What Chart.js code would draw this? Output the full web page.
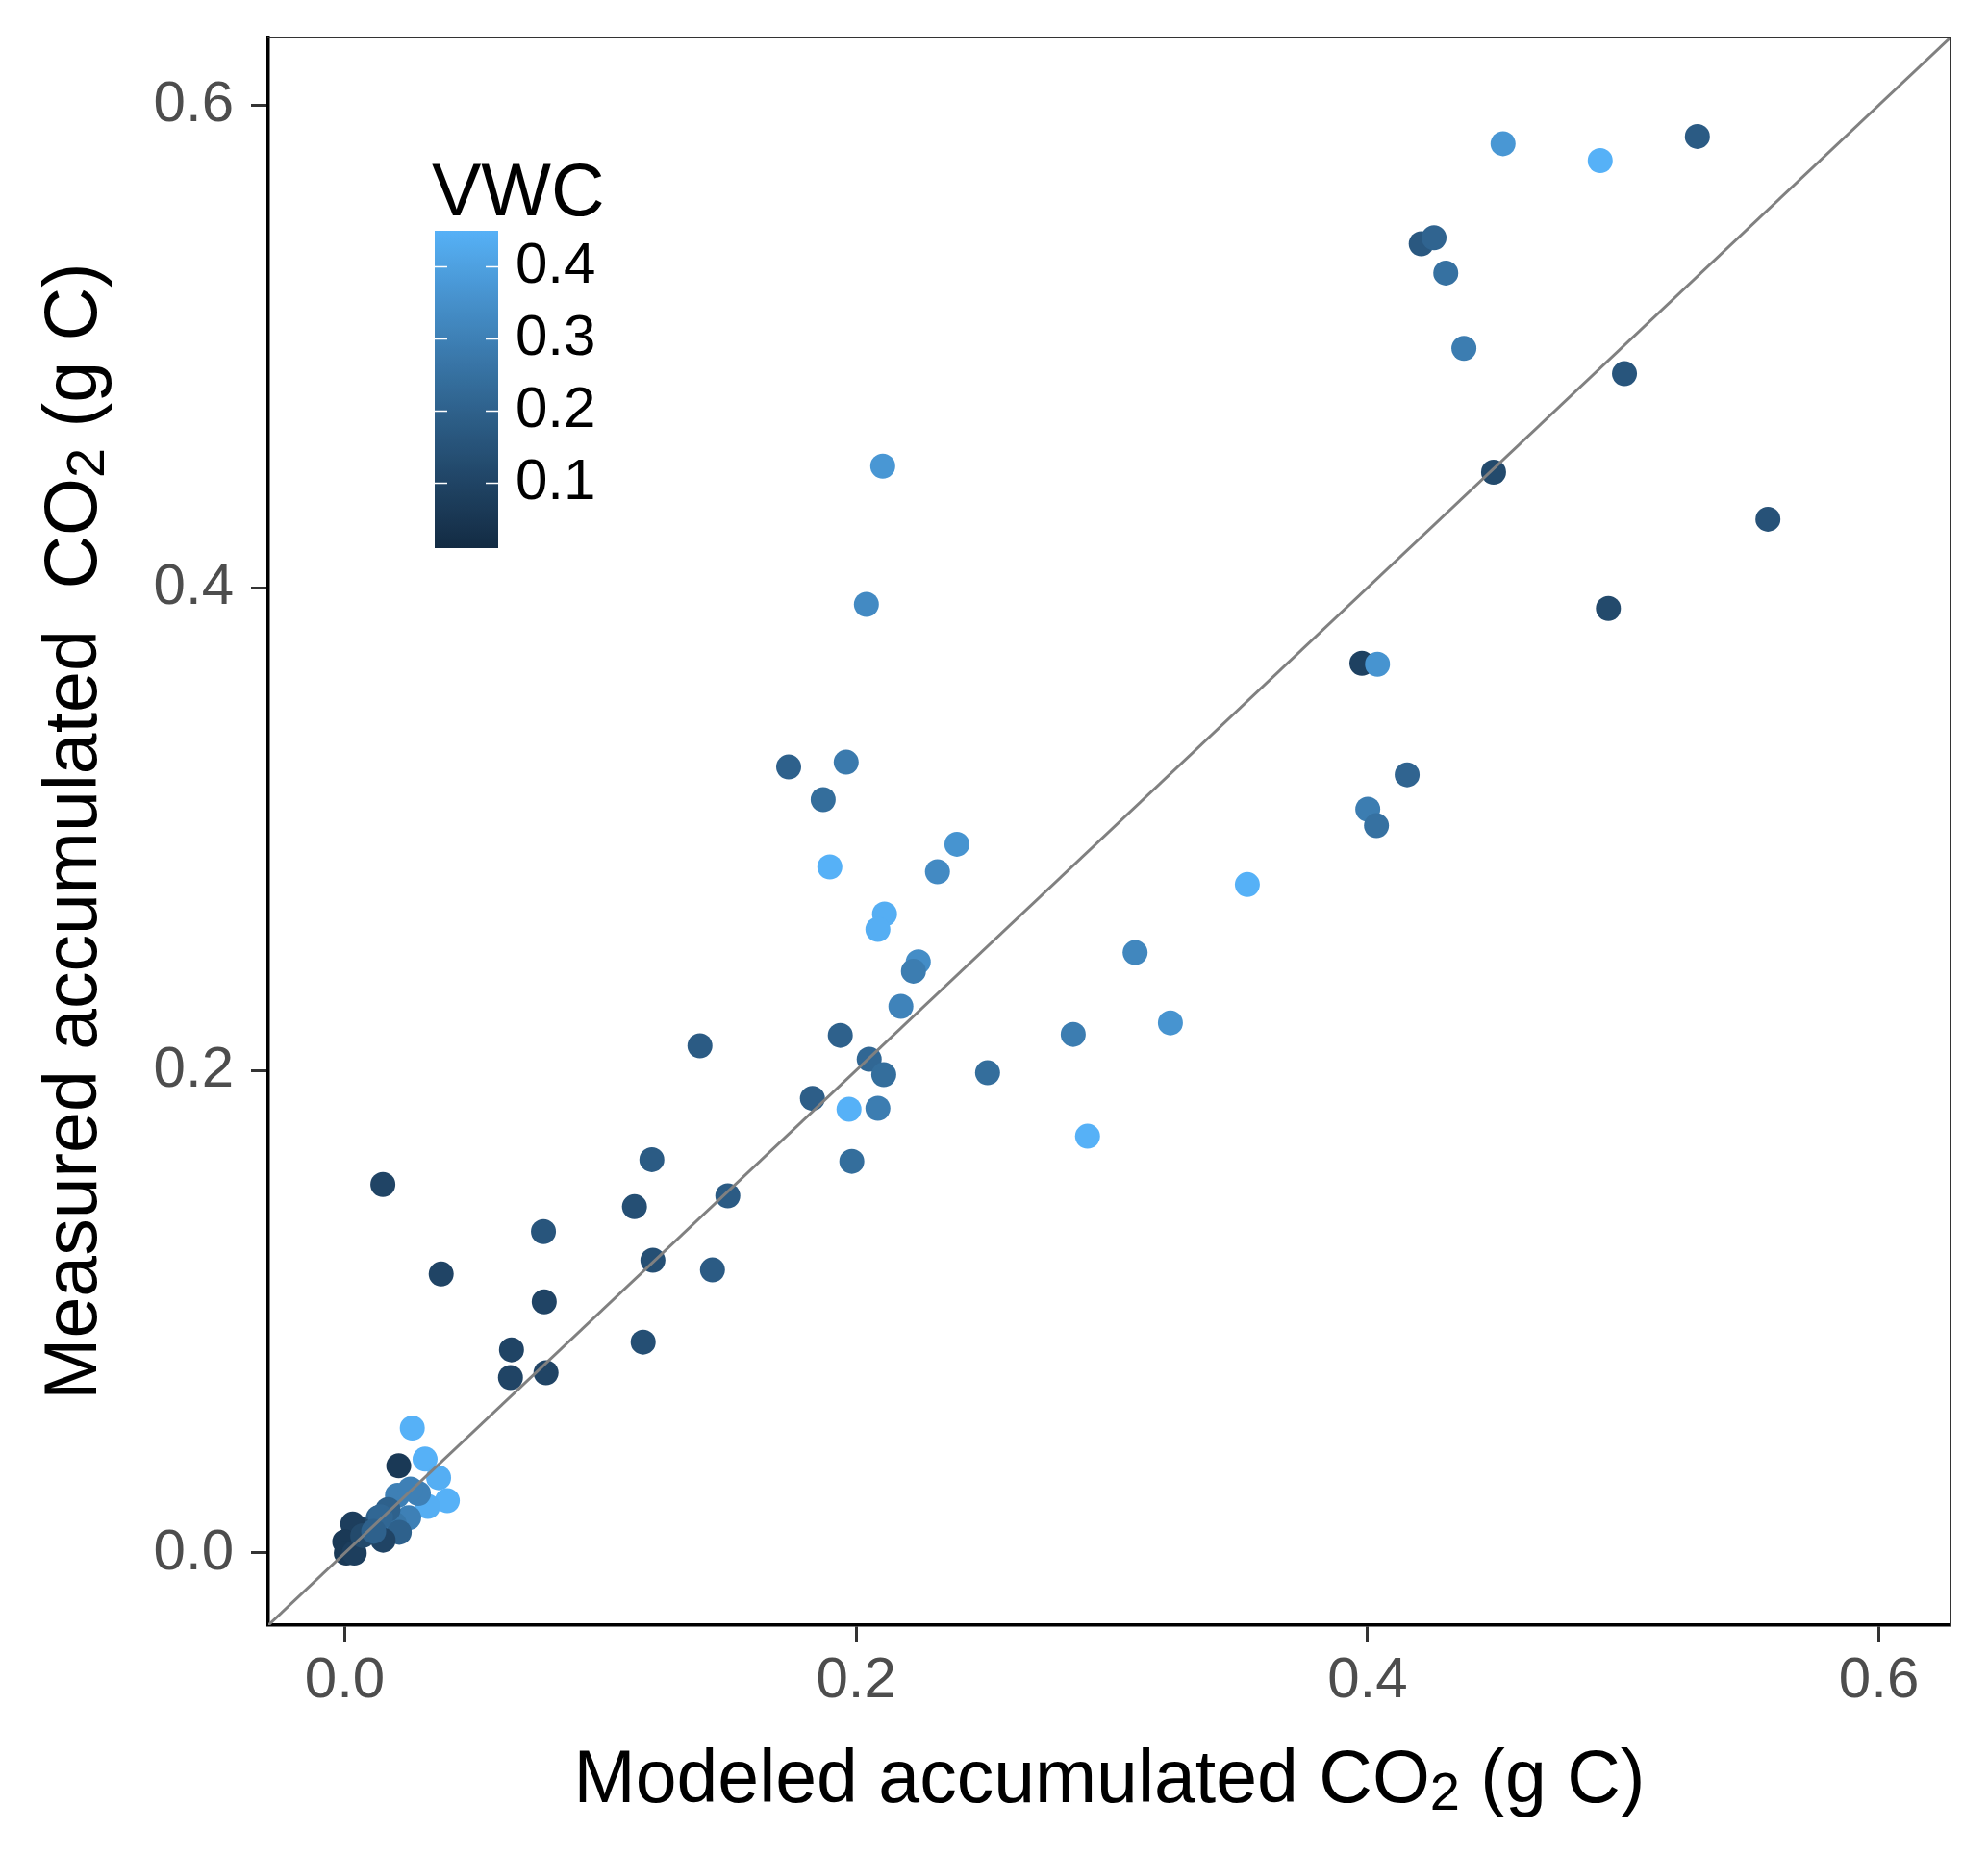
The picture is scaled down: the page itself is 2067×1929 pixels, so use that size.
<!DOCTYPE html>
<html><head><meta charset="utf-8">
<script src="https://cdn.jsdelivr.net/npm/chart.js@4.4.0/dist/chart.umd.min.js"></script>
<style>html,body{margin:0;padding:0;background:#fff;}canvas{display:block;}</style>
</head><body>
<canvas id="c" width="2067" height="1929"></canvas>
<script>
// ---- data ----
const modeled = [0.453,0.491,0.529,0.421,0.426,0.4306,0.4377,0.5005,0.4493,0.5566,0.4942,
  0.2104,0.204,0.3978,0.4039,0.4155,0.4001,0.4035,0.1736,0.1961,0.1871,0.1897,0.2394,0.2318,
  0.2111,0.2085,0.353,0.2243,0.2224,0.3091,0.2175,0.3229,0.2849,0.1938,0.1389,0.2051,0.2514,
  0.2108,0.1829,0.1972,0.2085,0.2905,0.1983,0.1201,0.0149,0.1133,0.1498,0.0777,0.1205,0.1438,
  0.0377,0.078,0.1167,0.0652,0.0648,0.0787,
  0.0264,0.0211,0.0314,0.0367,0.0401,0.0325,0.0288,0.0206,0.0257,0.025,0.0194,0.0213,0.015,
  0.0131,0.0093,0.0056,0.0031,0.0,0.0006,0.0037,0.0169,0.014,0.007,0.0113];
const measured = [0.584,0.577,0.587,0.5425,0.545,0.5304,0.4992,0.4887,0.4479,0.4284,0.3914,
  0.4504,0.3931,0.3687,0.3683,0.3225,0.3082,0.3014,0.3257,0.3277,0.3122,0.2843,0.2937,0.2823,
  0.2648,0.2584,0.277,0.245,0.2411,0.2488,0.2265,0.2197,0.2149,0.2145,0.2102,0.2046,0.199,
  0.1982,0.1884,0.1839,0.1843,0.1727,0.1623,0.163,0.1527,0.1435,0.148,0.1332,0.1213,0.1173,
  0.1156,0.1041,0.0874,0.0842,0.0727,0.0747,
  0.0518,0.0361,0.0389,0.0312,0.0217,0.0193,0.0247,0.0239,0.0265,0.0146,0.012,0.0086,0.0053,
  0.0146,0.01,0.01,0.012,0.0047,0.0,0.0,0.018,0.015,0.0072,0.009];
const vwc = [0.37,0.449,0.18,0.17,0.21,0.25,0.29,0.16,0.12,0.15,0.12,
  0.37,0.33,0.09,0.36,0.21,0.29,0.25,0.2,0.28,0.24,0.449,0.36,0.33,
  0.44,0.44,0.449,0.34,0.29,0.32,0.31,0.36,0.29,0.2,0.18,0.22,0.24,
  0.24,0.19,0.449,0.29,0.449,0.24,0.18,0.1,0.14,0.18,0.16,0.14,0.18,
  0.1,0.1,0.14,0.1,0.1,0.1,
  0.449,0.06,0.449,0.44,0.449,0.44,0.3,0.3,0.3,0.3,0.27,0.2,0.1,
  0.2,0.18,0.12,0.08,0.06,0.06,0.08,0.2,0.22,0.12,0.2];
const axisLimits = [-0.0299, 0.628];
const axisTicks = [0, 0.2, 0.4, 0.6];
const vwcLimits = [0.009, 0.449];
const vwcTicks = [0.1, 0.2, 0.3, 0.4];
const gradientEnds = ['#132B43', '#56B1F7'];
// titles as [main, subscript, rest]
const xTitleParts = ['Modeled accumulated CO', '2', ' (g C)'];
const yTitleParts = ['Measured accumulated  CO', '2', ' (g C)'];
const legendTitle = 'VWC';

// ---- colour scale (interpolated in CIELAB like ggplot) ----
function hex2rgb(h){return [1,3,5].map(i=>parseInt(h.substr(i,2),16));}
function rgb2lab(c){
  const l=c.map(v=>{v/=255;return v<=0.04045?v/12.92:Math.pow((v+0.055)/1.055,2.4);});
  let X=0.4124564*l[0]+0.3575761*l[1]+0.1804375*l[2];
  let Y=0.2126729*l[0]+0.7151522*l[1]+0.0721750*l[2];
  let Z=0.0193339*l[0]+0.1191920*l[1]+0.9503041*l[2];
  X/=0.95047;Z/=1.08883;
  const f=t=>t>0.008856?Math.cbrt(t):7.787*t+16/116;
  const fx=f(X),fy=f(Y),fz=f(Z);
  return [116*fy-16,500*(fx-fy),200*(fy-fz)];
}
function lab2rgb(L){
  const fy=(L[0]+16)/116,fx=fy+L[1]/500,fz=fy-L[2]/200;
  const fi=t=>{const t3=t*t*t;return t3>0.008856?t3:(t-16/116)/7.787;};
  const X=fi(fx)*0.95047,Y=fi(fy),Z=fi(fz)*1.08883;
  let r=3.2404542*X-1.5371385*Y-0.4985314*Z;
  let g=-0.9692660*X+1.8760108*Y+0.0415560*Z;
  let b=0.0556434*X-0.2040259*Y+1.0572252*Z;
  return [r,g,b].map(v=>{v=v<=0.0031308?12.92*v:1.055*Math.pow(v,1/2.4)-0.055;return Math.round(Math.max(0,Math.min(1,v))*255);});
}
const labLo=rgb2lab(hex2rgb(gradientEnds[0])), labHi=rgb2lab(hex2rgb(gradientEnds[1]));
function colourFor(v){
  let t=(v-vwcLimits[0])/(vwcLimits[1]-vwcLimits[0]);t=Math.max(0,Math.min(1,t));
  const c=lab2rgb(labLo.map((a,i)=>a+(labHi[i]-a)*t));
  return 'rgb('+c.join(',')+')';
}

const points = modeled.map((x,i)=>({x:x,y:measured[i]}));
const pointColours = vwc.map(colourFor);
const diagonal = axisLimits.map(v=>({x:v,y:v}));

const FONT='"Liberation Sans", Arial, sans-serif';
const TITLE_SIZE=77, SUB_SIZE=56, SUB_DROP=8;

function drawSubTitle(ctx, parts, cx, baseline, rotate){
  ctx.save();
  ctx.fillStyle='#000000';
  ctx.textBaseline='alphabetic';ctx.textAlign='left';
  const big='px '+FONT;
  ctx.font=TITLE_SIZE+big; const w0=ctx.measureText(parts[0]).width, w2=ctx.measureText(parts[2]).width;
  ctx.font=SUB_SIZE+big; const w1=ctx.measureText(parts[1]).width;
  const total=w0+w1+w2;
  if(rotate){ctx.translate(baseline,cx);ctx.rotate(-Math.PI/2);}
  else{ctx.translate(cx,baseline);}
  let x=-total/2;
  ctx.font=TITLE_SIZE+big; ctx.fillText(parts[0],x,0); x+=w0;
  ctx.font=SUB_SIZE+big; ctx.fillText(parts[1],x,SUB_DROP); x+=w1;
  ctx.font=TITLE_SIZE+big; ctx.fillText(parts[2],x,0);
  ctx.restore();
}

const titlesPlugin = {
  id:'subTitles',
  afterDraw(chart){
    const a=chart.chartArea, ctx=chart.ctx;
    drawSubTitle(ctx, xTitleParts, (a.left+a.right)/2, 1874, false);
    drawSubTitle(ctx, yTitleParts, (a.top+a.bottom)/2, 100, true);
  }
};

const colourbarPlugin = {
  id:'colourbar',
  afterDraw(chart){
    const ctx=chart.ctx;
    const x0=452,w=66,top=240,bottom=570,h=bottom-top;
    const grad=ctx.createLinearGradient(0,bottom,0,top);
    for(let i=0;i<=40;i++){
      const v=vwcLimits[0]+(vwcLimits[1]-vwcLimits[0])*i/40;
      grad.addColorStop(i/40,colourFor(v));
    }
    ctx.save();
    ctx.fillStyle=grad;
    ctx.fillRect(x0,top,w,h);
    const yOf=v=>bottom-(v-vwcLimits[0])/(vwcLimits[1]-vwcLimits[0])*h;
    ctx.strokeStyle='#ffffff';ctx.lineWidth=1.5;
    ctx.fillStyle='#000000';ctx.font='60px '+FONT;ctx.textAlign='left';ctx.textBaseline='middle';
    vwcTicks.forEach(v=>{
      const y=Math.round(yOf(v))+0.5;
      ctx.beginPath();ctx.moveTo(x0,y);ctx.lineTo(x0+13,y);ctx.moveTo(x0+w-13,y);ctx.lineTo(x0+w,y);ctx.stroke();
      ctx.fillText(v.toFixed(1),536,yOf(v)+1);
    });
    ctx.font='77px '+FONT;ctx.textBaseline='alphabetic';
    ctx.fillText(legendTitle,449,224);
    ctx.restore();
  }
};

const tickFmt = v=>Number(v).toFixed(1);
const setTicks = s=>{s.ticks=axisTicks.map(v=>({value:v}));};
const noPad = s=>{s.paddingTop=0;s.paddingBottom=0;s.paddingLeft=0;s.paddingRight=0;};

new Chart(document.getElementById('c'),{
  type:'scatter',
  data:{datasets:[
    {type:'line',data:diagonal,borderColor:'#808080',borderWidth:3,pointRadius:0,fill:false,tension:0},
    {data:points,pointRadius:13,pointHoverRadius:13,pointBorderWidth:0,pointBackgroundColor:pointColours,pointBorderColor:pointColours,showLine:false}
  ]},
  options:{
    responsive:false,animation:false,devicePixelRatio:1,
    events:[],
    layout:{padding:{left:0,top:39,right:39,bottom:0}},
    plugins:{legend:{display:false},tooltip:{enabled:false}},
    scales:{
      x:{type:'linear',position:'bottom',min:axisLimits[0],max:axisLimits[1],
        afterBuildTicks:setTicks,
        afterFit:s=>{s.height=239;noPad(s);},
        ticks:{callback:tickFmt,color:'#4D4D4D',font:{family:FONT,size:60},padding:4,maxRotation:0,autoSkip:false},
        grid:{drawOnChartArea:false,drawTicks:true,tickLength:18,tickColor:'#333333',tickWidth:3},
        border:{display:true,color:'#000000',width:3.5},
        title:{display:false}
      },
      y:{type:'linear',position:'left',min:axisLimits[0],max:axisLimits[1],
        afterBuildTicks:setTicks,
        afterFit:s=>{s.width=279;noPad(s);},
        ticks:{callback:tickFmt,color:'#4D4D4D',font:{family:FONT,size:60},padding:18,autoSkip:false},
        grid:{drawOnChartArea:false,drawTicks:true,tickLength:18,tickColor:'#333333',tickWidth:3},
        border:{display:true,color:'#000000',width:3.5},
        title:{display:false}
      },
      x2:{type:'linear',position:'top',min:axisLimits[0],max:axisLimits[1],
        afterFit:s=>{s.height=0;noPad(s);},
        ticks:{display:false},grid:{display:false,drawTicks:false},
        border:{display:true,color:'#333333',width:2}
      },
      y2:{type:'linear',position:'right',min:axisLimits[0],max:axisLimits[1],
        afterFit:s=>{s.width=0;noPad(s);},
        ticks:{display:false},grid:{display:false,drawTicks:false},
        border:{display:true,color:'#333333',width:2}
      }
    }
  },
  plugins:[titlesPlugin,colourbarPlugin]
});
</script>
</body></html>
